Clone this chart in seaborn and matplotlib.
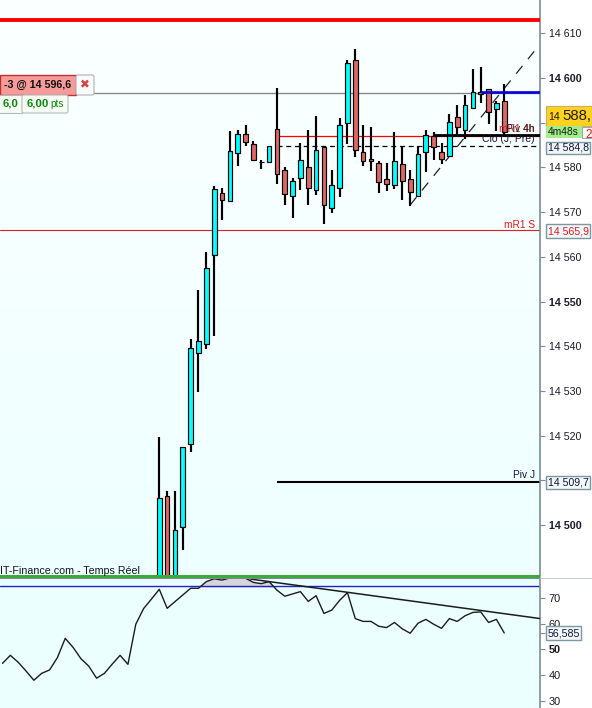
import numpy as np
import pandas as pd
import seaborn as sns
import matplotlib
matplotlib.use("Agg")
import matplotlib.pyplot as plt
from matplotlib.patches import Rectangle, FancyBboxPatch
from matplotlib.colors import LinearSegmentedColormap

# ---- data (prices are 14 000 + value) ----
highs = [519.6,507.6,507.6,517.5,541.6,552.6,561.0,575.8,575.4,588.1,588.4,589.5,585.8,581.7,584.7,597.8,580.1,577.6,585.5,588.4,591.5,584.5,579.4,591.1,604.0,606.5,589.5,589.0,581.4,580.9,587.9,584.6,579.4,584.9,588.4,588.0,585.4,591.9,594.0,596.1,602.0,602.5,597.5,594.9,598.7]
tops = [506.0,506.6,499.0,517.5,539.5,541.1,557.4,575.1,574.2,583.6,587.4,587.4,585.2,581.3,584.7,588.5,579.4,576.9,581.6,580.0,583.8,584.5,576.0,589.4,603.3,604.0,583.4,581.9,580.9,577.3,581.4,580.8,577.3,582.9,587.3,587.0,583.4,590.2,591.3,593.9,596.8,596.8,597.5,594.3,594.8]
bottoms = [484.0,484.0,484.0,499.5,518.1,538.4,540.4,560.3,572.6,572.4,583.2,585.6,581.7,581.2,581.3,578.5,574.1,573.5,577.6,575.5,574.9,571.5,570.9,575.3,589.9,583.8,581.4,581.4,576.8,576.4,576.0,576.9,574.4,573.5,583.4,584.5,581.8,582.5,589.0,588.3,593.4,596.4,592.3,593.0,587.9]
lows = [480.0,480.0,480.0,494.4,516.4,529.8,539.4,542.3,568.2,572.4,580.4,584.8,581.5,579.6,581.1,576.3,571.6,568.7,574.9,571.6,573.8,567.3,569.8,573.4,585.2,582.3,580.3,579.3,574.3,574.7,575.2,572.8,571.4,573.5,579.0,581.7,580.8,582.5,586.9,586.4,593.4,594.3,589.8,588.2,586.8]
rising = [1,0,1,1,1,1,1,1,0,1,1,0,0,0,1,0,0,1,1,0,1,0,1,1,1,0,0,0,0,0,1,0,0,1,1,0,0,1,0,1,1,0,0,1,0]
rsi_values = [44.6,47.7,45.0,41.6,38.0,40.7,42.0,46.8,54.3,50.8,46.4,43.5,38.8,40.7,44.3,47.7,44.2,59.8,65.9,69.6,73.4,66.0,68.6,71.2,73.8,73.8,76.4,77.5,77.0,77.8,78.0,77.7,76.1,75.6,76.4,73.1,70.7,
              71.6,72.5,68.7,70.9,64.0,65.3,69.1,72.1,62.0,60.9,60.9,59.0,58.5,60.5,58.0,56.3,60.2,61.7,59.8,58.2,62.0,60.9,63.1,64.4,64.6,60.5,61.7,56.4]
rsi_start = -20
price_ticks = [14610,14600,14590,14580,14570,14560,14550,14540,14530,14520,14510,14500]
price_labels = ["14 610","14 600","14 590","14 580","14 570","14 560","14 550","14 540","14 530","14 520","14 510","14 500"]
bold_prices = ["14 600","14 550","14 500"]
rsi_ticks = [70,60,56.585,50,40,30]
rsi_labels = ["70","60","","50","40","30"]
level_top = 14612.9
level_last = 14596.6
level_mr1s = 14565.9
level_clo = 14584.8
level_red = 14587.0
level_piv4h = 14587.3
level_pivj = 14509.7
level_blue = 14596.9
diag_x = [32, 48.3]
diag_y = [14571.6, 14607.0]
rsi_band = 74.55
rsi_trend_x = [11.6, 48.6]
rsi_trend_y = [77.4, 62.0]

W, H = 592, 708
sns.set_theme(style="white")
plt.rcParams["font.family"] = ["Liberation Sans", "DejaVu Sans"]
fig = plt.figure(figsize=(W/100, H/100), dpi=100, facecolor="white")

def axrect(x0, y0, x1, y1):
    return [x0/W, 1-y1/H, (x1-x0)/W, (y1-y0)/H]

ax = fig.add_axes(axrect(0, 0, 540.3, 576))
rx = fig.add_axes(axrect(0, 578, 540.3, 708))
xlim = (-20.32, 48.6)
spine = "#7a8c99"

grad = LinearSegmentedColormap.from_list("g", ["#FBFFFF", "#EEFFFF"])
ax.imshow(np.linspace(0, 1, 64).reshape(-1, 1), cmap=grad, extent=(0, 1, 0, 1),
          transform=ax.transAxes, aspect="auto", zorder=0)
ax.set_xlim(*xlim)
ax.set_ylim(14488.6, 14617.45)

# candles
df = pd.DataFrame({"i": np.arange(len(highs)), "high": highs, "top": tops,
                   "bottom": bottoms, "low": lows, "rising": rising})
for c in ["high", "top", "bottom", "low"]:
    df[c] = df[c] + 14000
ax.vlines(df["i"], df["low"], df["high"], color="black", lw=1.55, zorder=3)
ax.bar(df["i"], df["top"]-df["bottom"], bottom=df["bottom"], width=0.6,
       color=["#00FFFF" if r else "#E06666" for r in df["rising"]],
       edgecolor="black", linewidth=0.85, zorder=4)

# levels
ax.axhline(level_top, color="#FF0000", lw=2.8, zorder=5)
ax.axhline(level_last, color="#888888", lw=1.0, zorder=2)
ax.axhline(level_mr1s, color="#E02020", lw=0.8, zorder=2)
ax.hlines(level_red, 15, 48.6, color="#FF0000", lw=0.9, zorder=2)
ax.hlines(level_clo, 15, 48.6, color="black", lw=0.9, linestyles=(0, (4, 3)), zorder=2)
ax.hlines(level_piv4h, 35, 48.6, color="black", lw=2.0, zorder=5)
ax.hlines(level_pivj, 15, 48.6, color="black", lw=1.5, zorder=2)
ax.hlines(level_blue, 41, 48.6, color="#0000E0", lw=1.9, zorder=5)
ax.plot(diag_x, diag_y, color="#222222", lw=0.9, linestyle=(0, (8, 7)), zorder=2)

ax.set_xticks([])
ax.yaxis.tick_right()
ax.set_yticks(price_ticks)
ax.set_yticklabels(price_labels)
ax.tick_params(axis="y", length=3.5, width=0.8, color=spine, pad=2.5, labelsize=7.7, labelcolor="#1a1a2a", right=True)
for t in ax.get_yticklabels():
    if t.get_text() in bold_prices:
        t.set_fontweight("bold")
for s in ["top", "left", "bottom"]:
    ax.spines[s].set_visible(False)
ax.spines["right"].set_color(spine)
ax.spines["right"].set_linewidth(1.2)

# RSI panel
rx.set_facecolor("#EBFFFF")
rsi_df = pd.DataFrame({"x": rsi_start + np.arange(len(rsi_values)), "rsi": rsi_values})
rx.fill_between(rsi_df["x"], rsi_band, rsi_df["rsi"], where=rsi_df["rsi"] > rsi_band,
                interpolate=True, color="#D8D4D8", zorder=1)
sns.lineplot(data=rsi_df, x="x", y="rsi", ax=rx, color="#1c1c1c", lw=1.0, zorder=3, errorbar=None)
rx.axhline(rsi_band, color="#2020D0", lw=1.0, zorder=2)
rx.plot(rsi_trend_x, rsi_trend_y, color="#1c1c1c", lw=1.1, zorder=3)
rx.set_xlim(*xlim)
rx.set_ylim(27.2, 77.8)
rx.set_xlabel("")
rx.set_ylabel("")
rx.set_xticks([])
rx.yaxis.tick_right()
rx.set_yticks(rsi_ticks)
rx.set_yticklabels(rsi_labels)
rx.tick_params(axis="y", length=3.5, width=0.8, color=spine, pad=2.5, labelsize=7.9, labelcolor="#1a1a2a", right=True)
for t in rx.get_yticklabels():
    if t.get_text() == "50":
        t.set_fontweight("bold")
for s in ["top", "left", "bottom"]:
    rx.spines[s].set_visible(False)
rx.spines["right"].set_color(spine)
rx.spines["right"].set_linewidth(1.2)

# pixel helpers for overlay widgets
def box(x0, y0, x1, y1, fc, ec="none", lw=0.8, z=10, round_=False):
    if round_:
        p = FancyBboxPatch((x0/W, 1-y1/H), (x1-x0)/W, (y1-y0)/H, boxstyle="round,pad=0,rounding_size=0.003",
                           transform=fig.transFigure, fc=fc, ec=ec, lw=lw, zorder=z)
    else:
        p = Rectangle((x0/W, 1-y1/H), (x1-x0)/W, (y1-y0)/H, transform=fig.transFigure,
                      fc=fc, ec=ec, lw=lw, zorder=z)
    fig.add_artist(p)

def txt(x, y, s, size=8, color="#111122", ha="left", weight="normal", z=12):
    a = fig.text(x/W, 1-y/H, s, fontsize=size, color=color, ha=ha, va="center", fontweight=weight, zorder=z)
    return a

# separator + green band
box(0, 575, 540.3, 578, "#3CAA3C", z=9)
box(0, 578, 540.3, 578.8, spine, z=9)
box(540.3, 577.8, W, 578.6, "#C4CCD0", z=9)
txt(0, 571.5, "IT-Finance.com - Temps Réel", size=7.7)

# chart labels
txt(535, 224.5, "mR1 S", size=7.3, color="#E81818", ha="right")
txt(535, 475.5, "Piv J", size=7.3, color="#15153C", ha="right")
txt(535, 139.5, "Clo (J, Pre)", size=7.5, color="#15153C", ha="right")
txt(535, 129, "mR1 4h", size=7.3, color="#E81818", ha="right")
txt(534, 129, "Piv 4h", size=7.3, color="#222222", ha="right")

# position widget
box(0, 75, 76, 95, "#F79A9A", ec="#C03030", lw=1)
txt(3.5, 85, "-3 @ 14 596,6", size=7.7, weight="bold", color="#111111")
box(76, 75, 94, 95, "#FAFAFA", ec="#B0B0B0", lw=0.8, round_=True)
txt(85, 85, "✖", size=8.5, color="#D84040", ha="center")
box(-2, 95, 22, 113, "#F6FBF6", ec="#B8B8B8", lw=0.8)
box(22, 95, 68, 113, "#F6FBF6", ec="#B8B8B8", lw=0.8, round_=True)
txt(3, 103.5, "6,0", size=8.2, weight="bold", color="#0A8A0A")
txt(27, 103.5, "6,00", size=8.2, weight="bold", color="#0A8A0A")
txt(50.5, 104, "pts", size=7.2, color="#0A8A0A")

# right labels
box(545.5, 106, 594, 126, "#FFD21F", ec="#C8B060", lw=0.8)
txt(548, 117, "14", size=7.7, color="#221a00")
txt(562.5, 115.5, "588,", size=10.8, color="#221a00")
box(582, 127, 592, 138, "white", ec="#9AAAB4", lw=0.8)
txt(585, 135, "2", size=8.5, color="#F01010")
box(545.5, 126, 582, 137.5, "#A5EC8E", z=11)
txt(547.5, 132, "4m48s", size=7.4, color="#102010", z=12)
box(546, 142, 590, 154, "#F0F6F8", ec="#7A98A0", lw=1)
txt(548, 148, "14 584,8", size=7.6, color="#15153C")
box(546, 224.5, 590, 237.5, "#F4F8FA", ec="#7A98A0", lw=1)
txt(548, 231.5, "14 565,9", size=7.6, color="#E81818")
box(546, 475.5, 590, 488.5, "#F4F8FA", ec="#7A98A0", lw=1)
txt(548, 482.5, "14 509,7", size=7.6, color="#15153C")
box(546, 626, 581, 640, "#F4F8FA", ec="#7A98A0", lw=1)
txt(547.5, 633.5, "56,585", size=7.7, color="#15153C")

fig.savefig("out.png", dpi=100, facecolor="white")
